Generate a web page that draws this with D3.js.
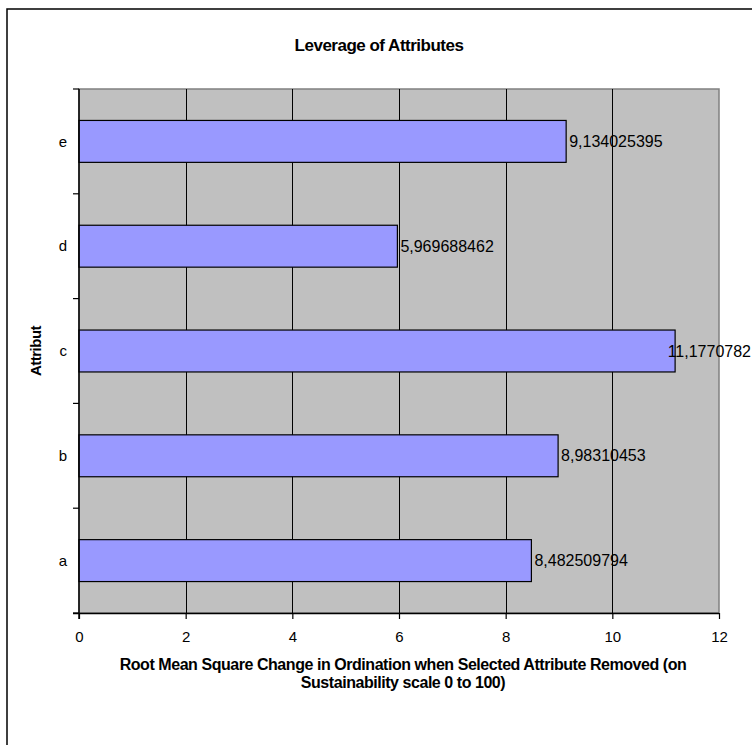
<!DOCTYPE html>
<html>
<head>
<meta charset="utf-8">
<script src="https://cdn.jsdelivr.net/npm/d3@7"></script>
<style>
  html, body { margin: 0; padding: 0; background: #fff; }
  svg { display: block; font-family: "Liberation Sans", Arial, sans-serif; }
</style>
</head>
<body>
<svg id="chart" width="752" height="745"></svg>
<script>
// Attributes (listed bottom to top) and their leverage values
const attributes = ["a", "b", "c", "d", "e"];
const leverage = [8.482509794, 8.98310453, 11.1770782, 5.969688462, 9.134025395];
const leverageLabels = ["8,482509794", "8,98310453", "11,1770782", "5,969688462", "9,134025395"];
const xTicks = [0, 2, 4, 6, 8, 10, 12];

const titleText = "Leverage of Attributes";
const yTitle = "Attribut";
const xTitleLines = [
  "Root Mean Square Change in Ordination when Selected Attribute Removed (on",
  "Sustainability scale 0 to 100)"
];

const W = 752, H = 745;
const plot = { left: 79, right: 719, top: 89, bottom: 613 };

const svg = d3.select("#chart");

// Outer chart frame (runs past the right and bottom edges)
svg.append("rect")
  .attr("x", 7).attr("y", 9)
  .attr("width", 800).attr("height", 800)
  .attr("fill", "#fff").attr("stroke", "#000").attr("stroke-width", 1.5);

const x = d3.scaleLinear().domain([0, 12]).range([plot.left, plot.right]);
const y = d3.scaleBand()
  .domain(attributes.slice().reverse())
  .range([plot.top, plot.bottom])
  .paddingInner(0.6).paddingOuter(0.3);

// Plot background
svg.append("rect")
  .attr("x", plot.left).attr("y", plot.top)
  .attr("width", plot.right - plot.left).attr("height", plot.bottom - plot.top)
  .attr("fill", "#c0c0c0").attr("stroke", "#808080").attr("stroke-width", 1.5);

// Vertical gridlines
svg.append("g").selectAll("line")
  .data(xTicks.filter(t => t > 0 && t < 12))
  .join("line")
  .attr("x1", d => Math.round(x(d)) + 0.5).attr("x2", d => Math.round(x(d)) + 0.5)
  .attr("y1", plot.top).attr("y2", plot.bottom)
  .attr("stroke", "#000").attr("stroke-width", 1);

// Bars
const rows = attributes.map((a, i) => ({ a, v: leverage[i], label: leverageLabels[i] }));
svg.append("g").selectAll("rect")
  .data(rows)
  .join("rect")
  .attr("x", x(0))
  .attr("y", d => y(d.a))
  .attr("width", d => x(d.v) - x(0))
  .attr("height", y.bandwidth())
  .attr("fill", "#9999ff")
  .attr("stroke", "#000").attr("stroke-width", 1.2);

// X axis
const xAxis = svg.append("g")
  .attr("transform", `translate(0,${plot.bottom})`)
  .call(d3.axisBottom(x).tickValues(xTicks).tickSize(6).tickPadding(12).tickFormat(d3.format("d")));
xAxis.select(".domain").attr("stroke", "#000").attr("stroke-width", 1.5)
  .attr("d", `M${plot.left - 6},0.5H${plot.right}`);
xAxis.selectAll(".tick line").attr("stroke", "#000").attr("stroke-width", 1.2);
xAxis.selectAll(".tick text")
  .attr("font-family", "Liberation Sans, Arial, sans-serif")
  .attr("font-size", 15).attr("fill", "#000");

// Y axis: category labels centred in bands, ticks at band boundaries
const yAxis = svg.append("g").attr("transform", `translate(${plot.left},0)`);
yAxis.append("line")
  .attr("x1", 0).attr("x2", 0)
  .attr("y1", plot.top).attr("y2", plot.bottom + 6)
  .attr("stroke", "#000").attr("stroke-width", 1.5);
const step = y.step();
const boundaries = d3.range(attributes.length + 1).map(i => plot.top + i * step);
yAxis.selectAll(".ytick")
  .data(boundaries)
  .join("line")
  .attr("class", "ytick")
  .attr("x1", -6).attr("x2", 0)
  .attr("y1", d => d).attr("y2", d => d)
  .attr("stroke", "#000").attr("stroke-width", 1.2);
yAxis.selectAll(".ylab")
  .data(attributes)
  .join("text")
  .attr("class", "ylab")
  .attr("x", -12)
  .attr("y", d => y(d) + y.bandwidth() / 2)
  .attr("dy", "0.35em")
  .attr("text-anchor", "end")
  .attr("font-size", 15)
  .text(d => d);

// Value labels beside the bars, kept inside the chart frame
const vl = svg.append("g").selectAll("text")
  .data(rows)
  .join("text")
  .attr("y", d => y(d.a) + y.bandwidth() / 2)
  .attr("dy", "0.35em")
  .attr("font-size", 16)
  .attr("fill", "#000")
  .text(d => d.label);
vl.each(function(d) {
  const w = this.getComputedTextLength();
  const xPos = Math.min(x(d.v) + 3, W - 1 - w);
  d3.select(this).attr("x", xPos);
});

// Title
svg.append("text")
  .attr("x", 379).attr("y", 51)
  .attr("text-anchor", "middle")
  .attr("font-size", 17).attr("font-weight", "bold")
  .attr("letter-spacing", -0.5)
  .text(titleText);

// Y axis title
svg.append("text")
  .attr("transform", `translate(41,${(plot.top + plot.bottom) / 2}) rotate(-90)`)
  .attr("text-anchor", "middle")
  .attr("font-size", 15).attr("font-weight", "bold")
  .attr("letter-spacing", -0.5)
  .text(yTitle);

// X axis title (two lines)
svg.append("g").selectAll("text")
  .data(xTitleLines)
  .join("text")
  .attr("x", 403)
  .attr("y", (d, i) => 670 + i * 18)
  .attr("text-anchor", "middle")
  .attr("font-size", 16).attr("font-weight", "bold")
  .attr("letter-spacing", -0.45)
  .text(d => d);
</script>
</body>
</html>
